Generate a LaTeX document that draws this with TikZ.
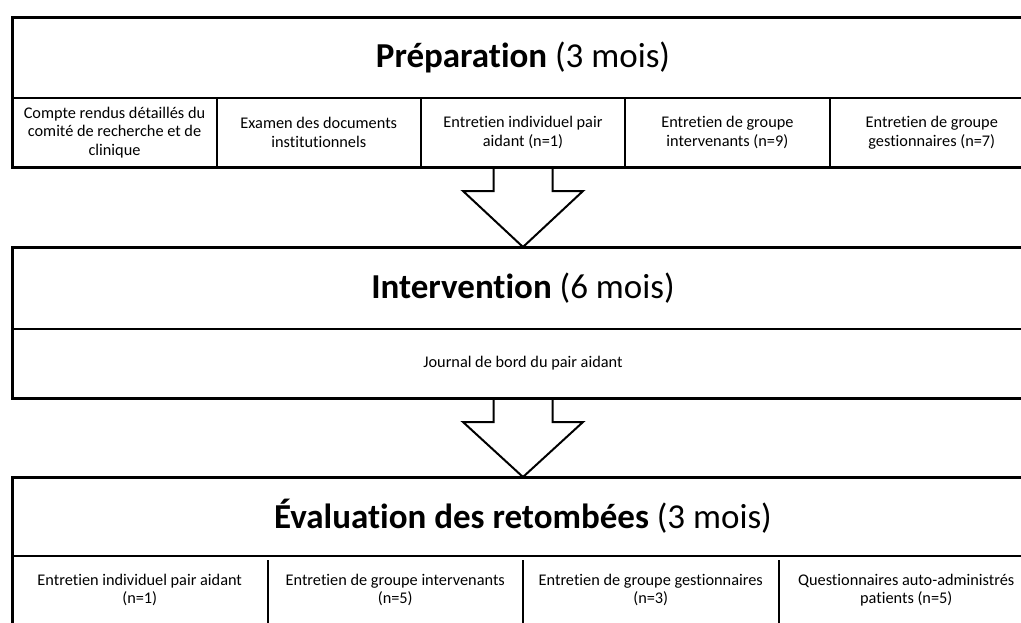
\documentclass[tikz,border=0pt]{standalone}
\usepackage{fontspec}
\setmainfont{Carlito}[Ligatures=NoCommon]
\usetikzlibrary{calc}

\begin{document}
\begin{tikzpicture}[x=1pt,y=-1pt]
    \tikzset{
      head/.style={draw=black,line width=2pt,outer sep=0pt,minimum width=1022pt,font=\fontsize{35}{40}\selectfont},
      cell/.style={draw=black,line width=2pt,outer sep=0pt,minimum width=204.4pt,minimum height=69pt,align=center,inner sep=0pt,font=\fontsize{16.3}{18.5}\selectfont},
      evcell/.style={outer sep=0pt,minimum width=255.5pt,minimum height=60pt,align=center,inner sep=0pt,font=\fontsize{16.3}{18.5}\selectfont},
      frame/.style={draw=black,line width=3pt},
      rule/.style={draw=black,line width=2pt},
      barrow/.style={draw=black,line width=2pt,line join=miter}
    }
    \clip (0,0) rectangle (1021,622);
    % preparation
    \node[head,minimum height=81pt] (prep) at (523,57.5) {\textbf{Préparation} (3 mois)};
    \node[cell] (p1) at (114.5,132.5) {Compte rendus détaillés du\\comité de recherche et de\\clinique};
    \node[cell] (p2) at (318.8,132.5) {Examen des documents\\institutionnels};
    \node[cell] (p3) at (523,132.5) {Entretien individuel pair\\aidant (n=1)};
    \node[cell] (p4) at (727.4,132.5) {Entretien de groupe\\intervenants (n=9)};
    \node[cell] (p5) at (931.8,132.5) {Entretien de groupe\\gestionnaires (n=7)};
    \draw[frame] (prep.north west) rectangle (p5.south east);
    % intervention
    \node[head,minimum height=82pt] (interv) at (523,288) {\textbf{Intervention} (6 mois)};
    \node[cell,minimum width=1022pt] (journal) at (523,363.5) {Journal de bord du pair aidant};
    \draw[frame] (interv.north west) rectangle (journal.south east);
    % evaluation
    \node[head,minimum height=79pt] (evalu) at (523,516.5) {\textbf{Évaluation des retombées} (3 mois)};
    \node[evcell] (e1) at (139.75,590) {Entretien individuel pair aidant\\(n=1)};
    \node[evcell] (e2) at (395.25,590) {Entretien de groupe intervenants\\(n=5)};
    \node[evcell] (e3) at (650.75,590) {Entretien de groupe gestionnaires\\(n=3)};
    \node[evcell] (e4) at (906.25,590) {Questionnaires auto-administrés\\patients (n=5)};
    \draw[rule] (e1.north east) -- ++(0,80);
    \draw[rule] (e2.north east) -- ++(0,80);
    \draw[rule] (e3.north east) -- ++(0,80);
    \draw[frame] ($(e1.north west)+(0,80)$) -- (evalu.north west) -- (evalu.north east) -- ++(0,160);
    % block arrows
    \draw[barrow] ($(p3.south)+(-29.5,0)$) -- ++(0,24) -- ++(-30.5,0) -- (interv.north)
      -- ($(p3.south)+(60,24)$) -- ++(-30.5,0) -- ++(0,-24);
    \draw[barrow] ($(journal.south)+(-29.5,0)$) -- ++(0,24) -- ++(-30.5,0) -- (evalu.north)
      -- ($(journal.south)+(60,24)$) -- ++(-30.5,0) -- ++(0,-24);
\end{tikzpicture}
\end{document}
